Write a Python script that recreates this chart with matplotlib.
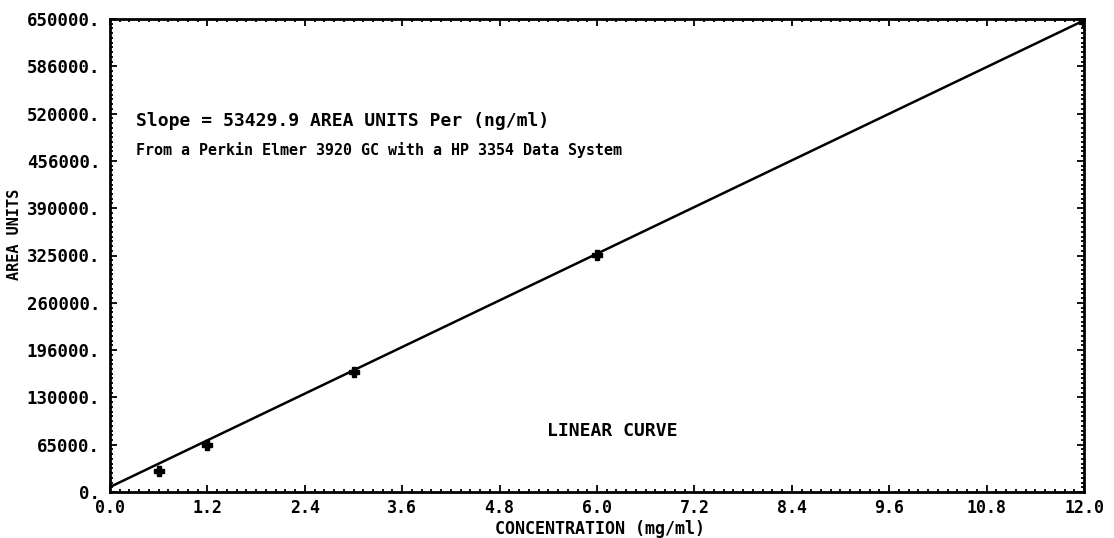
#!/usr/bin/env python3
"""Linear calibration curve: area units vs concentration."""

import matplotlib
matplotlib.use("Agg")
import matplotlib.pyplot as plt
from matplotlib.ticker import MultipleLocator

# standards
conc = [0.6, 1.2, 3.0, 6.0, 12.0]
area = [28500, 64600, 164900, 325700, 646000]

# fitted line end points (slope 53429.9)
fit_x = [0.0, 12.0]
fit_y = [6900, 648059]

xticks = [0.0, 1.2, 2.4, 3.6, 4.8, 6.0, 7.2, 8.4, 9.6, 10.8, 12.0]
xtick_labels = ["0.0", "1.2", "2.4", "3.6", "4.8", "6.0", "7.2", "8.4", "9.6", "10.8", "12.0"]
yticks = [0, 65000, 130000, 195000, 260000, 325000, 390000, 455000, 520000, 585000, 650000]
ytick_labels = ["0.", "65000.", "130000.", "196000.", "260000.", "325000.",
                "390000.", "456000.", "520000.", "586000.", "650000."]

MONO = "DejaVu Sans Mono"

fig = plt.figure(figsize=(11.14, 5.38), dpi=100)
ax = fig.add_axes([110 / 1114, 1 - 492 / 538, 974 / 1114, 473 / 538])

ax.plot(fit_x, fit_y, color="black", lw=1.8, solid_capstyle="butt")
ax.plot(conc, area, ls="none", marker="P", ms=7, color="black")

ax.set_xlim(0, 12.0)
ax.set_ylim(0, 650000)
ax.set_xticks(xticks)
ax.set_xticklabels(xtick_labels)
ax.set_yticks(yticks)
ax.set_yticklabels(ytick_labels)
ax.xaxis.set_minor_locator(MultipleLocator(0.12))
ax.yaxis.set_minor_locator(MultipleLocator(6500))

ax.tick_params(which="both", direction="in", top=True, right=True, width=1.3, color="black")
ax.tick_params(which="major", length=5)
ax.tick_params(which="minor", length=2.5)
ax.tick_params(axis="x", which="major", pad=5)
ax.tick_params(axis="y", which="major", pad=7)
for lab in ax.get_yticklabels():
    lab.set_fontfamily(MONO)
    lab.set_fontweight("bold")
    lab.set_fontsize(12.5)
for lab in ax.get_xticklabels():
    lab.set_fontfamily(MONO)
    lab.set_fontweight("bold")
    lab.set_fontsize(12)

for sp in ax.spines.values():
    sp.set_linewidth(2.0)

ax.set_xlabel("CONCENTRATION (mg/ml)", family=MONO, weight="bold", fontsize=12, va="center")
ax.xaxis.set_label_coords(490 / 974, -37 / 473)
ax.set_ylabel("AREA UNITS", family=MONO, weight="bold", fontsize=11, va="center")
ax.yaxis.set_label_coords(-95 / 974, 258 / 473)

ax.text(26 / 974, 1 - 102 / 473, "Slope = 53429.9 AREA UNITS Per (ng/ml)",
        transform=ax.transAxes, family=MONO, weight="bold", fontsize=13, va="center")
ax.text(26 / 974, 1 - 131 / 473, "From a Perkin Elmer 3920 GC with a HP 3354 Data System",
        transform=ax.transAxes, family=MONO, weight="bold", fontsize=10.8, va="center")
ax.text(502 / 974, (492 - 431) / 473, "LINEAR CURVE",
        transform=ax.transAxes, family=MONO, weight="bold", fontsize=13,
        ha="center", va="center")

fig.savefig("out.png", dpi=100)
